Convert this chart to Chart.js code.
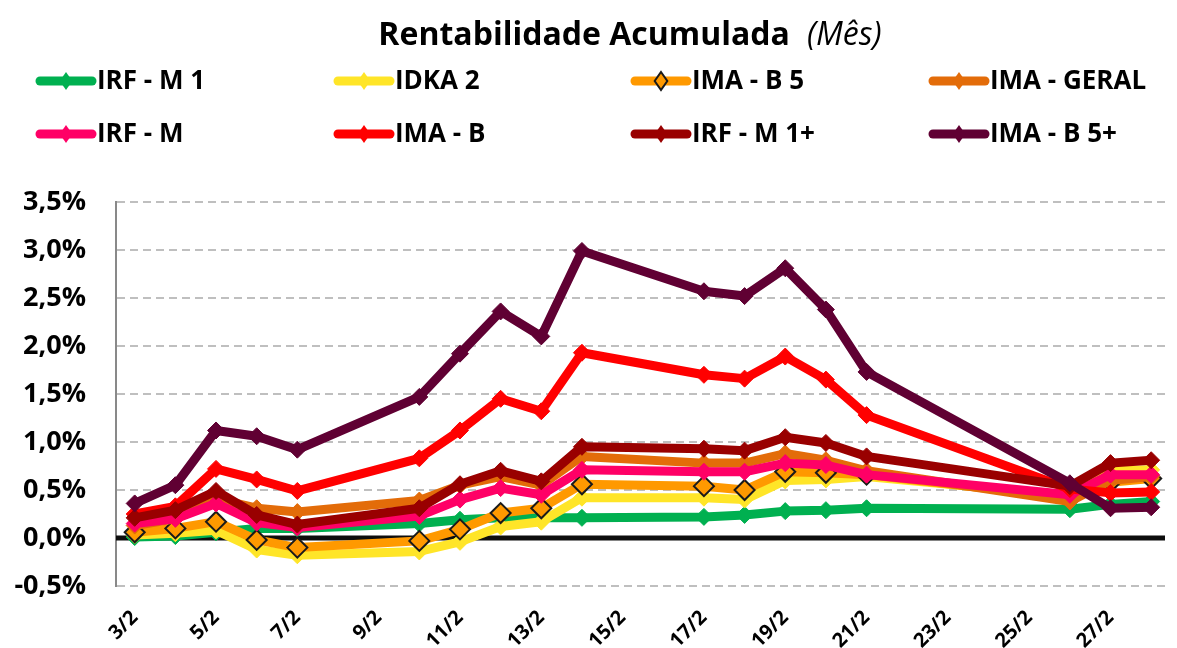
<!DOCTYPE html>
<html>
<head>
<meta charset="utf-8">
<script src="https://cdn.jsdelivr.net/npm/chart.js@4/dist/chart.umd.min.js"></script>
<style>
html,body{margin:0;padding:0;background:#ffffff;}
#wrap{width:1177px;height:648px;position:relative;}
</style>
</head>
<body>
<div id="wrap"><canvas id="c" width="1177" height="648"></canvas></div>
<script>
// ---- data (values in %) ----
const days = [3, 4, 5, 6, 7, 10, 11, 12, 13, 14, 17, 18, 19, 20, 21, 26, 27, 28];
const xTickValues = [3, 5, 7, 9, 11, 13, 15, 17, 19, 21, 23, 25, 27];
const xTickLabels = ['3/2', '5/2', '7/2', '9/2', '11/2', '13/2', '15/2', '17/2', '19/2', '21/2', '23/2', '25/2', '27/2'];
const yTickValues = [-0.5, 0, 0.5, 1, 1.5, 2, 2.5, 3, 3.5];

const seriesNames = ['IRF - M 1', 'IDKA 2', 'IMA - B 5', 'IMA - GERAL', 'IRF - M', 'IMA - B', 'IRF - M 1+', 'IMA - B 5+'];

const irfM1    = [0.01, 0.02, 0.06, 0.10, 0.10, 0.15, 0.19, 0.21, 0.21, 0.21, 0.22, 0.24, 0.28, 0.29, 0.31, 0.30, 0.35, 0.38];
const idka2    = [0.03, 0.05, 0.08, -0.12, -0.18, -0.14, -0.04, 0.12, 0.17, 0.42, 0.42, 0.40, 0.60, 0.61, 0.64, 0.44, 0.70, 0.71];
const imaB5    = [0.06, 0.10, 0.17, -0.02, -0.10, -0.03, 0.09, 0.26, 0.31, 0.56, 0.54, 0.50, 0.69, 0.68, 0.66, 0.42, 0.58, 0.62];
const imaGeral = [0.13, 0.20, 0.41, 0.31, 0.27, 0.39, 0.55, 0.64, 0.55, 0.85, 0.78, 0.78, 0.88, 0.81, 0.70, 0.38, 0.60, 0.64];
const irfM     = [0.15, 0.20, 0.36, 0.16, 0.11, 0.23, 0.40, 0.52, 0.45, 0.71, 0.69, 0.69, 0.78, 0.76, 0.66, 0.45, 0.66, 0.66];
const imaB     = [0.25, 0.33, 0.72, 0.61, 0.49, 0.83, 1.12, 1.45, 1.32, 1.93, 1.70, 1.66, 1.89, 1.65, 1.28, 0.51, 0.47, 0.48];
const irfM1p   = [0.21, 0.29, 0.49, 0.24, 0.14, 0.31, 0.56, 0.70, 0.59, 0.95, 0.93, 0.91, 1.05, 0.99, 0.85, 0.54, 0.78, 0.81];
const imaB5p   = [0.36, 0.55, 1.12, 1.06, 0.92, 1.47, 1.92, 2.36, 2.10, 2.99, 2.57, 2.52, 2.81, 2.38, 1.73, 0.57, 0.31, 0.32];

const seriesValues = [irfM1, idka2, imaB5, imaGeral, irfM, imaB, irfM1p, imaB5p];

// ---- styles ----
const seriesColors = ['#00B050', '#FFE528', '#FF9900', '#E36C09', '#FF0066', '#FF0000', '#990000', '#600033'];
const FONT = "'Open Sans', 'DejaVu Sans', sans-serif";

const datasets = seriesNames.map((name, i) => {
  const hollow = i === 2;
  return {
    label: name,
    data: days.map((d, k) => ({ x: d, y: seriesValues[i][k] })),
    borderColor: seriesColors[i],
    backgroundColor: seriesColors[i],
    borderWidth: 9,
    borderJoinStyle: 'round',
    borderCapStyle: 'round',
    tension: 0,
    pointStyle: 'rectRot',
    pointRadius: hollow ? 10 : 8.5,
    pointHoverRadius: hollow ? 10 : 8.5,
    pointBackgroundColor: seriesColors[i],
    pointBorderColor: hollow ? '#1A1A1A' : seriesColors[i],
    pointBorderWidth: hollow ? 2 : 1,
    order: seriesNames.length - i
  };
});

const zeroLine = {
  id: 'zeroLine',
  beforeDatasetsDraw(chart) {
    const { ctx, chartArea, scales } = chart;
    const y = scales.y.getPixelForValue(0);
    ctx.save();
    ctx.strokeStyle = '#0D0D0D';
    ctx.lineWidth = 5;
    ctx.beginPath();
    ctx.moveTo(chartArea.left, y);
    ctx.lineTo(chartArea.right, y);
    ctx.stroke();
    ctx.restore();
  }
};

const titleLegend = {
  id: 'titleLegend',
  afterDraw(chart) {
    const ctx = chart.ctx;
    ctx.save();
    // title
    const t1 = 'Rentabilidade Acumulada';
    const t2 = '(Mês)';
    ctx.textBaseline = 'alphabetic';
    ctx.textAlign = 'left';
    ctx.fillStyle = '#000000';
    ctx.font = 'bold 32px ' + FONT;
    const w1 = ctx.measureText(t1).width;
    ctx.font = 'italic 32px ' + FONT;
    const w2 = ctx.measureText(t2).width;
    const gap = 17;
    const startX = 630 - (w1 + gap + w2) / 2;
    ctx.font = 'bold 32px ' + FONT;
    ctx.fillText(t1, startX, 45);
    ctx.font = 'italic 32px ' + FONT;
    ctx.fillText(t2, startX + w1 + gap, 45);

    // legend
    const cols = [36, 334, 631, 929];
    const rows = [81, 134];
    chart.data.datasets.forEach((ds, i) => {
      const x0 = cols[i % 4];
      const y = rows[Math.floor(i / 4)];
      ctx.strokeStyle = ds.borderColor;
      ctx.lineWidth = 9;
      ctx.lineCap = 'round';
      ctx.beginPath();
      ctx.moveTo(x0 + 4, y);
      ctx.lineTo(x0 + 56, y);
      ctx.stroke();
      const cx = x0 + 30, r = 9;
      ctx.beginPath();
      ctx.moveTo(cx, y - r);
      ctx.lineTo(cx + r * 0.7, y);
      ctx.lineTo(cx, y + r);
      ctx.lineTo(cx - r * 0.7, y);
      ctx.closePath();
      ctx.fillStyle = ds.pointBackgroundColor;
      ctx.fill();
      if (i === 2) {
        ctx.strokeStyle = '#1A1A1A';
        ctx.lineWidth = 2;
        ctx.lineCap = 'butt';
        ctx.stroke();
      }
      ctx.fillStyle = '#000000';
      ctx.font = 'bold 26px ' + FONT;
      ctx.textBaseline = 'middle';
      ctx.fillText(ds.label, x0 + 61, y + 1);
    });
    ctx.restore();
  }
};

new Chart(document.getElementById('c'), {
  type: 'line',
  data: { datasets },
  options: {
    responsive: false,
    animation: false,
    events: [],
    layout: { padding: { top: 202, left: 0, right: 0, bottom: 0 } },
    plugins: { legend: { display: false }, title: { display: false }, tooltip: { enabled: false } },
    scales: {
      x: {
        type: 'linear',
        min: 2.54,
        max: 28.34,
        grid: { display: false },
        border: { display: false },
        afterBuildTicks: (s) => { s.ticks = xTickValues.map(v => ({ value: v })); },
        afterFit: (s) => { s.height = 62; },
        ticks: {
          autoSkip: false,
          minRotation: 45,
          maxRotation: 45,
          padding: 12,
          color: '#000000',
          font: { family: FONT, weight: 'bold', size: 20 },
          callback: (v) => { const k = xTickValues.indexOf(v); return k >= 0 ? xTickLabels[k] : ''; }
        }
      },
      y: {
        min: -0.5,
        max: 3.5,
        afterBuildTicks: (s) => { s.ticks = yTickValues.map(v => ({ value: v })); },
        afterFit: (s) => { s.width = 116; },
        grid: {
          drawTicks: false,
          color: (c) => (c.tick && c.tick.value === 0) ? 'rgba(0,0,0,0)' : '#BFBFBF',
          lineWidth: 2
        },
        border: {
          display: true,
          color: '#898989',
          width: 2,
          dash: (c) => c.type === 'tick' ? [8, 5] : []
        },
        ticks: {
          padding: 30,
          color: '#000000',
          font: { family: FONT, weight: 'bold', size: 27 },
          callback: (v) => v.toFixed(1).replace('.', ',') + '%'
        }
      }
    }
  },
  plugins: [zeroLine, titleLegend]
});
</script>
</body>
</html>
